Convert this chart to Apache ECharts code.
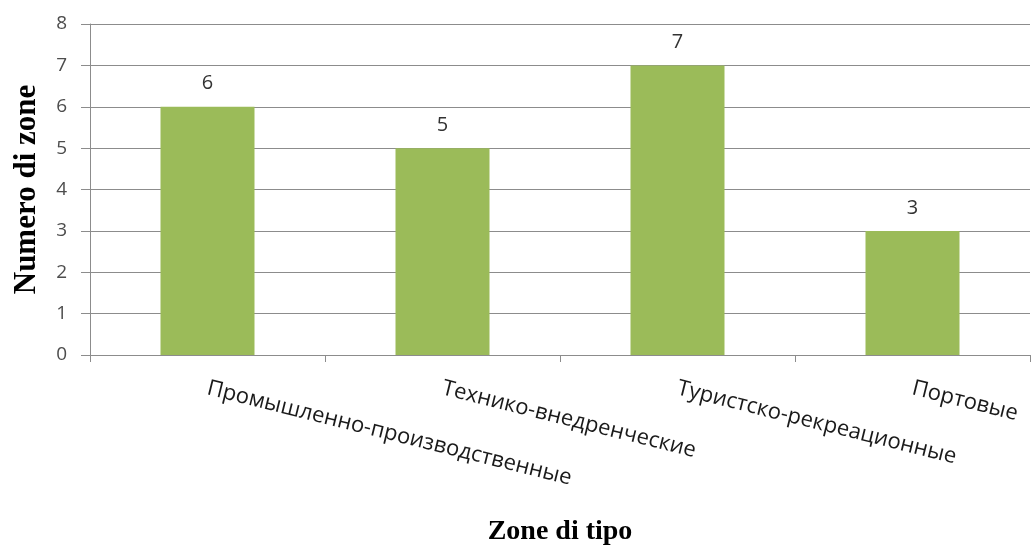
<!DOCTYPE html>
<html><head><meta charset="utf-8">
<script src="https://cdn.jsdelivr.net/npm/echarts@6/dist/echarts.min.js"></script>
<style>html,body{margin:0;padding:0;background:#fff}#c{width:1036px;height:554px}</style>
</head><body><div id="c"></div>
<script>
const categories = ['Промышленно-производственные', 'Технико-внедренческие', 'Туристско-рекреационные', 'Портовые'];
const values = [6, 5, 7, 3];
const yTicks = [0, 1, 2, 3, 4, 5, 6, 7, 8];

const chart = echarts.init(document.getElementById('c'));
chart.setOption({
  animation: false,
  grid: { left: 90, right: 6, top: 24, bottom: 199, containLabel: false },
  xAxis: {
    type: 'category',
    data: categories,
    name: 'Zone di tipo',
    nameLocation: 'middle',
    nameGap: 163,
    nameTextStyle: { fontFamily: 'Liberation Serif', fontWeight: 'bold', fontSize: 28, color: '#000' },
    axisLine: { lineStyle: { color: '#8c8c8c', width: 1 } },
    axisTick: { show: true, alignWithLabel: false, length: 7, lineStyle: { color: '#8c8c8c' } },
    axisLabel: { rotate: -14, margin: 33, fontFamily: 'Open Sans', fontSize: 22, color: '#1a1a1a', interval: 0 }
  },
  yAxis: {
    type: 'value',
    min: yTicks[0],
    max: yTicks[yTicks.length - 1],
    interval: 1,
    name: 'Numero di zone',
    nameLocation: 'middle',
    nameGap: 48,
    nameTextStyle: { fontFamily: 'Liberation Serif', fontWeight: 'bold', fontSize: 31, color: '#000' },
    axisLine: { show: true, lineStyle: { color: '#8c8c8c', width: 1 } },
    axisTick: { show: true, length: 9, lineStyle: { color: '#8c8c8c' } },
    axisLabel: { margin: 23, fontFamily: 'Open Sans', fontSize: 19, color: '#4d4d4d' },
    splitLine: { lineStyle: { color: '#8c8c8c', width: 1 } }
  },
  series: [{
    type: 'bar',
    data: values,
    barWidth: '40%',
    itemStyle: { color: '#9bbb59' },
    label: { show: true, position: 'top', distance: 13, fontFamily: 'Open Sans', fontSize: 20, color: '#333' }
  }]
});
</script></body></html>
